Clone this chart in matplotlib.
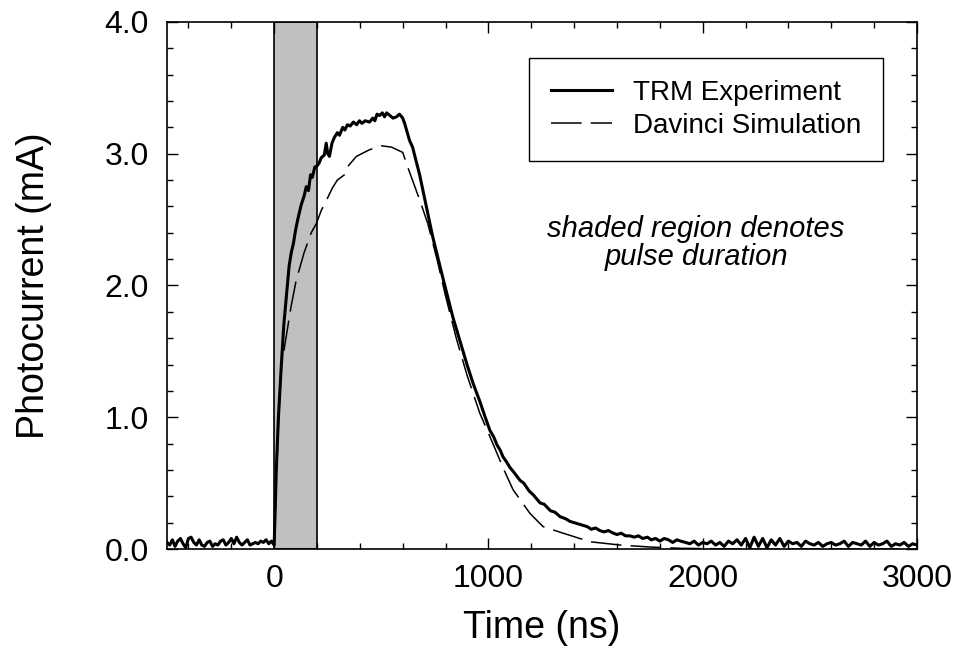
import numpy as np
import matplotlib
matplotlib.use("Agg")
import matplotlib.pyplot as plt
from matplotlib.ticker import MultipleLocator

plt.rcParams['font.family'] = ['Liberation Sans', 'DejaVu Sans']

# TRM experiment (time in ns, photocurrent in mA)
# pre-pulse baseline, sampled every 12.5 ns from -500 to 0
t_base = np.linspace(-500, 0, 41)
i_base = [0.05, 0.03, 0.07, 0.02, 0.06, 0.08, 0.04, 0.01, 0.08, 0.09, 0.05, 0.03,
          0.07, 0.03, 0.02, 0.05, 0.06, 0.02, 0.04, 0.03, 0.06, 0.07, 0.03, 0.05,
          0.08, 0.04, 0.09, 0.05, 0.03, 0.05, 0.07, 0.03, 0.04, 0.05, 0.04, 0.06,
          0.05, 0.07, 0.04, 0.06, 0.03]

# rise, plateau and decay
t_pulse = [5, 10, 20, 33, 45, 60, 70, 80, 90, 100, 110, 126, 140, 150, 160, 170,
           178, 190, 197, 210, 220, 234, 243, 250, 258, 270, 280, 295, 305, 320,
           330, 342, 355, 370, 385, 398, 410, 425, 445, 460, 470, 480, 492, 505,
           515, 525, 540, 555, 571, 585, 600, 609, 632, 646, 679, 710, 740, 787,
           834, 876, 900, 930, 960, 985, 1007, 1025, 1040, 1055, 1068, 1085, 1100,
           1120, 1148, 1165, 1190, 1210, 1241, 1260, 1290, 1310, 1335, 1360, 1380,
           1400, 1420, 1440, 1461, 1480, 1500, 1520, 1540, 1560, 1583, 1600, 1620,
           1640, 1660, 1680, 1700, 1720, 1742, 1760, 1780, 1800, 1820, 1840, 1860,
           1880, 1897]
i_pulse = [0.30, 0.60, 1.00, 1.38, 1.70, 1.97, 2.15, 2.25, 2.32, 2.42, 2.50, 2.61,
           2.68, 2.75, 2.72, 2.84,
           2.82, 2.90, 2.90, 2.93, 2.97, 2.99, 3.08, 3.00, 2.98, 3.08, 3.12, 3.16,
           3.14, 3.20,
           3.18, 3.22, 3.21, 3.24, 3.22, 3.25, 3.23, 3.25, 3.24, 3.27, 3.25, 3.30,
           3.29, 3.31,
           3.28, 3.31, 3.29, 3.27, 3.28, 3.30, 3.27, 3.23, 3.10, 3.05, 2.84, 2.60,
           2.37, 2.06,
           1.76, 1.53, 1.40, 1.25, 1.12, 1.00, 0.90, 0.85, 0.79, 0.75, 0.70, 0.66,
           0.62,
           0.58, 0.52, 0.50, 0.44, 0.41, 0.35, 0.34, 0.29, 0.28, 0.245, 0.23, 0.21,
           0.20, 0.19, 0.18, 0.17, 0.15, 0.16, 0.14, 0.13, 0.14, 0.12, 0.11, 0.12,
           0.10, 0.10, 0.09, 0.10, 0.08, 0.09, 0.07, 0.08, 0.06, 0.08, 0.07, 0.05,
           0.07, 0.06]

# noisy tail, every 20 ns from 1920 to 3000
t_tail = np.arange(1920, 3001, 20)
i_tail = [0.05, 0.04, 0.06, 0.03, 0.05, 0.04, 0.06, 0.03, 0.05, 0.02, 0.06,
          0.04, 0.07, 0.03, 0.08, 0.01, 0.09, 0.02, 0.08, 0.01, 0.07, 0.03,
          0.08, 0.02, 0.06, 0.04, 0.05, 0.02, 0.06, 0.04, 0.03, 0.05, 0.02,
          0.04, 0.05, 0.03, 0.04, 0.06, 0.02, 0.05, 0.04, 0.03, 0.06, 0.02,
          0.05, 0.03, 0.04, 0.06, 0.02, 0.04, 0.03, 0.05, 0.02, 0.04, 0.03]

# Davinci simulation
t_sim = [0, 10, 20, 33, 61, 80, 103, 140, 173, 197, 220, 248, 272, 295, 328,
         342, 384, 445, 501, 548, 600, 623, 679, 717, 760, 800, 850, 900, 960,
         1021, 1070, 1115, 1194, 1255, 1349, 1475, 1616, 1756, 1900, 2200, 3000]
i_sim = [0.0, 0.50, 0.95, 1.38, 1.66, 1.85, 2.04, 2.25, 2.40, 2.47, 2.57, 2.66,
         2.74, 2.80, 2.84, 2.90, 2.98, 3.03, 3.06, 3.05, 3.01, 2.90, 2.65, 2.47,
         2.20, 1.92, 1.60, 1.32, 1.03, 0.80, 0.61, 0.45, 0.27, 0.17, 0.12, 0.055,
         0.03, 0.015, 0.005, 0.0, 0.0]

pulse = (0, 200)

t_exp = np.concatenate([t_base, t_pulse, t_tail])
i_exp = np.concatenate([i_base, i_pulse, i_tail])

fig = plt.figure(figsize=(9.62, 6.65), dpi=100)
ax = fig.add_axes([0.1736, 0.1744, 0.7796, 0.7926])

ax.axvspan(pulse[0], pulse[1], facecolor='#c0c0c0', edgecolor='black', lw=1.2, zorder=1)
ax.plot(t_exp, i_exp, color='black', lw=2.2, label='TRM Experiment', zorder=3)
ax.plot(t_sim, i_sim, color='black', lw=1.1, dashes=[20, 6], label='Davinci Simulation', zorder=3)

ax.set_xlim(-500, 3000)
ax.set_ylim(0, 4.0)
ax.xaxis.set_major_locator(MultipleLocator(1000))
ax.xaxis.set_minor_locator(MultipleLocator(200))
ax.yaxis.set_major_locator(MultipleLocator(1.0))
ax.yaxis.set_minor_locator(MultipleLocator(0.2))
ax.yaxis.set_major_formatter(plt.FormatStrFormatter('%.1f'))
ax.tick_params(which='both', direction='in', top=True, right=True, width=1)
ax.tick_params(which='major', length=8, labelsize=23)
ax.tick_params(axis='y', which='major', pad=13)
ax.tick_params(axis='x', which='major', pad=11)
ax.tick_params(which='minor', length=4)
for s in ax.spines.values():
    s.set_linewidth(1.2)

ax.set_xlabel('Time (ns)', fontsize=27, labelpad=11)
ax.set_ylabel('Photocurrent (mA)', fontsize=27, labelpad=38)

leg = ax.legend(loc='upper right', bbox_to_anchor=(0.955, 0.932), borderaxespad=0,
                fontsize=20, frameon=True, fancybox=False, edgecolor='black',
                framealpha=1, handlelength=2.2, handletextpad=0.75,
                borderpad=0.8, labelspacing=0.25)
leg.get_frame().set_linewidth(1.0)

ax.text(1969, 2.32, 'shaded region denotes\npulse duration', fontsize=21,
        style='italic', ha='center', va='center', linespacing=1.0)

fig.savefig('out.png', dpi=100)
